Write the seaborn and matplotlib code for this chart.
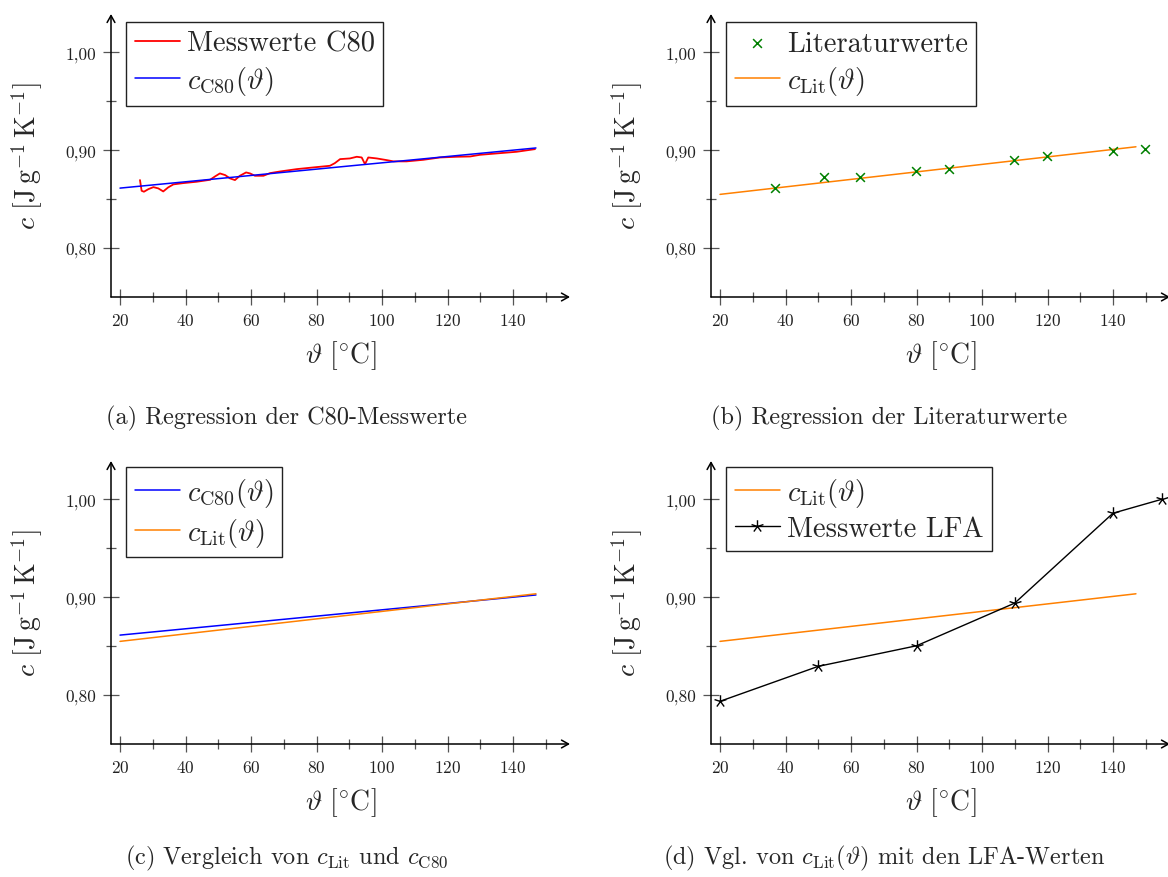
import numpy as np
import pandas as pd
import matplotlib
matplotlib.use("Agg")
import matplotlib.pyplot as plt
from matplotlib.path import Path
from matplotlib.ticker import FixedLocator, FixedFormatter, NullFormatter
import seaborn as sns

# ---------------------------------------------------------------- data
# C80 measurement (temperature in °C, specific heat in J/(g K))
theta_c80 = [26.1, 26.6, 27.3, 28.7, 30.2, 31.7, 33.2, 34.7, 36.3, 39.3,
             43.4, 47.5, 49.0, 50.5, 52.1, 53.6, 55.1, 56.6, 58.5, 59.7,
             61.2, 63.8, 65.8, 68.9, 74.0, 79.0, 84.1, 85.6, 87.2, 90.2,
             92.3, 93.8, 94.8, 95.8, 98.4, 101.4, 103.5, 107.5, 112.6, 117.7,
             122.8, 126.9, 129.9, 136.0, 141.1, 146.7]
c_c80_meas = [0.8694, 0.8585, 0.8575, 0.8602, 0.8622, 0.8609, 0.8578, 0.8619, 0.8650, 0.8663,
              0.8677, 0.8697, 0.8731, 0.8762, 0.8745, 0.8711, 0.8694, 0.8738, 0.8772, 0.8762,
              0.8738, 0.8738, 0.8765, 0.8782, 0.8806, 0.8823, 0.8840, 0.8867, 0.8908, 0.8915,
              0.8932, 0.8925, 0.8857, 0.8925, 0.8915, 0.8898, 0.8885, 0.8885, 0.8901, 0.8925,
              0.8932, 0.8935, 0.8952, 0.8969, 0.8983, 0.9010]

# regression lines (end points)
theta_fit = [20.0, 147.0]
c_c80_fit = [0.8612, 0.9022]
c_lit_fit = [0.8548, 0.9034]

# literature values
theta_lit = [36.85, 51.85, 62.85, 79.85, 89.85, 109.85, 119.85, 139.85, 149.85]
c_lit = [0.8615, 0.8728, 0.8728, 0.8786, 0.8806, 0.8894, 0.8939, 0.8986, 0.9014]

# LFA measurement
theta_lfa = [20, 50, 80, 110, 140, 155]
c_lfa = [0.7936, 0.8293, 0.8503, 0.8939, 0.9857, 1.0000]

# axis ticks
x_major = [20, 40, 60, 80, 100, 120, 140]
x_minor = [30, 50, 70, 90, 110, 130, 150]
y_major = [0.80, 0.90, 1.00]
y_major_labels = ["0,80", "0,90", "1,00"]
y_minor = [0.85, 0.95]

captions = [
    "(a) Regression der C80-Messwerte",
    "(b) Regression der Literaturwerte",
    r"(c) Vergleich von $c_{\mathrm{Lit}}$ und $c_{\mathrm{C80}}$",
    r"(d) Vgl. von $c_{\mathrm{Lit}}(\vartheta)$ mit den LFA-Werten",
]

# ---------------------------------------------------------------- style
sns.set_style("white")
plt.rcParams["font.family"] = ["cmr10"]
plt.rcParams["mathtext.fontset"] = "cm"
plt.rcParams["axes.formatter.use_mathtext"] = True
plt.rcParams["axes.unicode_minus"] = False

RED = "#ff0000"
BLUE = "#0000ff"
ORANGE = "#ff8000"
GREEN = "#008000"

W, H = 1168, 878
fig = plt.figure(figsize=(W / 100, H / 100), dpi=100)

AX_W, AX_H = 459, 283


def make_axes(left_px, axis_y_px):
    return fig.add_axes([left_px / W, 1 - axis_y_px / H, AX_W / W, AX_H / H])


# five-ray asterisk marker
ang = np.deg2rad(90 + 72 * np.arange(5))
verts, codes = [], []
for a in ang:
    verts += [(0, 0), (np.cos(a), np.sin(a))]
    codes += [Path.MOVETO, Path.LINETO]
STAR = Path(verts, codes)


def style_axes(ax):
    ax.set_xlim(17.25, 157.4)
    ax.set_ylim(0.75, 1.039)
    for s in ax.spines.values():
        s.set_visible(False)
    ax.set_facecolor("none")
    ax.xaxis.set_major_locator(FixedLocator(x_major))
    ax.xaxis.set_minor_locator(FixedLocator(x_minor))
    ax.yaxis.set_major_locator(FixedLocator(y_major))
    ax.yaxis.set_major_formatter(FixedFormatter(y_major_labels))
    ax.yaxis.set_minor_locator(FixedLocator(y_minor))
    ax.yaxis.set_minor_formatter(NullFormatter())
    ax.tick_params(which="major", direction="inout", length=11, width=0.9,
                   color="#555555", labelsize=12.5, labelcolor="#222222", pad=5)
    ax.tick_params(which="minor", direction="inout", length=7, width=0.9,
                   color="#555555")
    ax.tick_params(axis="x", which="both", bottom=True, top=False)
    ax.tick_params(axis="y", which="both", left=True, right=False)
    arrow = dict(arrowstyle="->,head_length=0.5,head_width=0.28", lw=1.1,
                 color="black", shrinkA=0, shrinkB=0)
    ax.annotate("", xy=(1, 0), xytext=(0, 0), xycoords="axes fraction",
                textcoords="axes fraction", arrowprops=arrow, annotation_clip=False)
    ax.annotate("", xy=(0, 1), xytext=(0, 0), xycoords="axes fraction",
                textcoords="axes fraction", arrowprops=arrow, annotation_clip=False)
    ax.set_xlabel(r"$\vartheta\ [{}^{\circ}\mathrm{C}]$", fontsize=20, va="center")
    ax.set_ylabel(r"$c\ [\mathrm{J\,g^{-1}\,K^{-1}}]$", fontsize=20, va="center")
    ax.xaxis.set_label_coords(0.5, -58 / AX_H)
    ax.yaxis.set_label_coords(-84 / AX_W, 0.5)


def add_legend(ax, top_gap):
    leg = ax.legend(loc="upper left", bbox_to_anchor=(15 / AX_W, 1 - top_gap / AX_H),
                    borderaxespad=0, fontsize=20.5, frameon=True, fancybox=False,
                    edgecolor="#222222", framealpha=1, handlelength=1.58,
                    handletextpad=0.25, borderpad=0.3, labelspacing=0.25)
    leg.get_frame().set_linewidth(1.0)


LW = 1.1

df_meas = pd.DataFrame({"theta": theta_c80, "c": c_c80_meas})
df_c80 = pd.DataFrame({"theta": theta_fit, "c": c_c80_fit})
df_litfit = pd.DataFrame({"theta": theta_fit, "c": c_lit_fit})
df_lit = pd.DataFrame({"theta": theta_lit, "c": c_lit})
df_lfa = pd.DataFrame({"theta": theta_lfa, "c": c_lfa})

# (a) C80 measurement and its regression
ax = make_axes(111, 298)
sns.lineplot(data=df_meas, x="theta", y="c", ax=ax, color=RED, lw=1.3,
             estimator=None, label="Messwerte C80")
sns.lineplot(data=df_c80, x="theta", y="c", ax=ax, color=BLUE, lw=LW,
             estimator=None, label=r"$c_{\mathrm{C80}}(\vartheta)$")
style_axes(ax)
add_legend(ax, 8)

# (b) literature values and their regression
ax = make_axes(711, 298)
sns.scatterplot(data=df_lit, x="theta", y="c", ax=ax, color=GREEN, marker="x",
                s=40, linewidth=1.1, label="Literaturwerte", zorder=3)
sns.lineplot(data=df_litfit, x="theta", y="c", ax=ax, color=ORANGE, lw=LW,
             estimator=None, label=r"$c_{\mathrm{Lit}}(\vartheta)$")
style_axes(ax)
add_legend(ax, 8)

# (c) both regressions
ax = make_axes(111, 745)
sns.lineplot(data=df_c80, x="theta", y="c", ax=ax, color=BLUE, lw=LW,
             estimator=None, label=r"$c_{\mathrm{C80}}(\vartheta)$")
sns.lineplot(data=df_litfit, x="theta", y="c", ax=ax, color=ORANGE, lw=LW,
             estimator=None, label=r"$c_{\mathrm{Lit}}(\vartheta)$")
style_axes(ax)
add_legend(ax, 6)

# (d) literature regression vs. LFA measurement
ax = make_axes(711, 745)
sns.lineplot(data=df_litfit, x="theta", y="c", ax=ax, color=ORANGE, lw=LW,
             estimator=None, label=r"$c_{\mathrm{Lit}}(\vartheta)$")
sns.lineplot(data=df_lfa, x="theta", y="c", ax=ax, color="black", lw=1.0,
             estimator=None, marker=STAR, markersize=9, markeredgewidth=1.0,
             markerfacecolor="none", markeredgecolor="black",
             label="Messwerte LFA", clip_on=False)
style_axes(ax)
add_legend(ax, 6)

# captions
fig.text(287 / W, 1 - 418 / H, captions[0], ha="center", va="center", fontsize=17.5)
fig.text(889 / W, 1 - 418 / H, captions[1], ha="center", va="center", fontsize=17.5)
fig.text(287 / W, 1 - 858 / H, captions[2], ha="center", va="center", fontsize=17.5)
fig.text(884 / W, 1 - 858 / H, captions[3], ha="center", va="center", fontsize=17.5)

fig.savefig("out.png", dpi=100)
